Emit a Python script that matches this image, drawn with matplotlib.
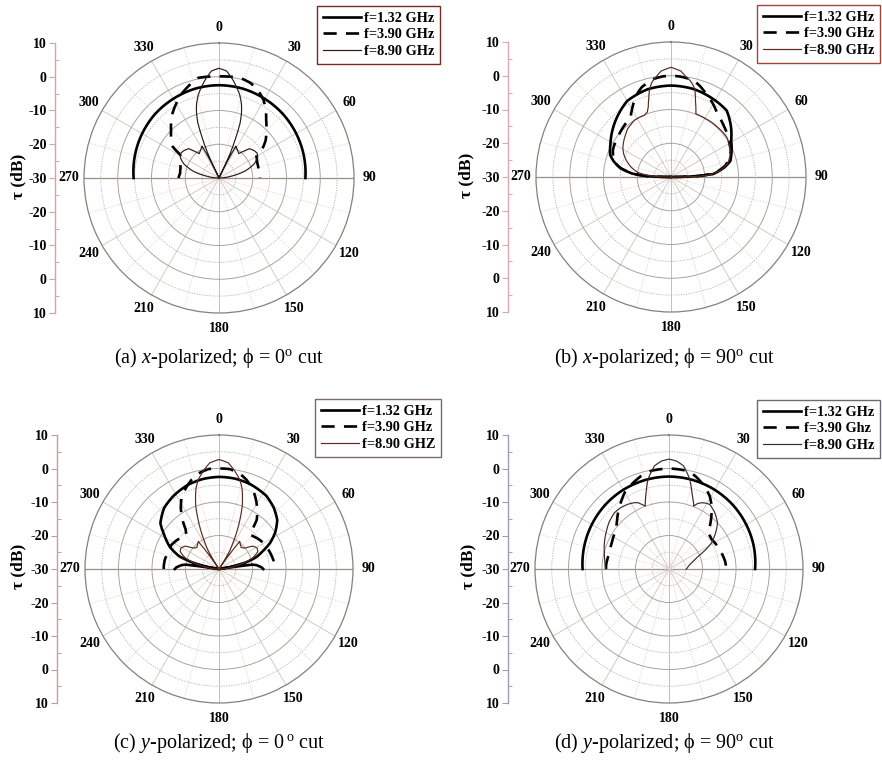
import numpy as np
import matplotlib
matplotlib.use("Agg")
import matplotlib.pyplot as plt
from matplotlib.ticker import FixedLocator

plt.rcParams['font.family'] = ['Liberation Serif', 'DejaVu Serif']
plt.rcParams['mathtext.fontset'] = 'custom'
plt.rcParams['mathtext.rm'] = 'Liberation Serif'
plt.rcParams['mathtext.it'] = 'Liberation Serif:italic'
plt.rcParams['mathtext.bf'] = 'Liberation Serif:bold'

# ---------------- data (angle in degrees, clockwise from top; value in dB) ----
theta_ticks = list(range(0, 360, 30))
theta_labels = [str(t) for t in theta_ticks]
r_ticks = [-40, -30, -20, -10, 0, 10, 20, 30, 40]
r_tick_labels = ["10", "0", "-10", "-20", "-30", "-20", "-10", "0", "10"]

# (a) x-polarized, phi = 0
a132_ang = [-90, -75, -60, -45, -30, -15, 0, 15, 30, 45, 60, 75, 90]
a132_db = [-4.7, -4.2, -3.7, -3.2, -2.9, -2.6, -2.5, -2.6, -2.9, -3.2, -3.6, -4.0, -4.4]
a390_ang = [-90, -83, -75, -65, -59, -56, -50, -45, -37, -30, -25, -18, -12, -6, 0,
            6, 12, 18, 22, 26, 30, 35, 39, 45, 51, 56, 60, 68, 78, 88, 90]
a390_db = [-18.0, -18.4, -18.2, -17.5, -16.6, -13.5, -11.5, -9.9, -6.8, -4.6, -3.0, -1.2, 0.3, 0.2, 0.1,
           0.2, 0.3, -0.3, -1.1, -2.2, -3.5, -5.8, -7.8, -10.2, -12.2, -14.5, -17.2, -17.8, -18.0, -17.9, -17.9]
a890_ang = [-90, -82, -75, -68, -62, -57, -52, -46, -42, -39, -35, -31, -28, -26.5, -25.5, -24.5, -23,
            -21, -19, -17, -14, -11, -8, -4, 0, 4, 8, 11, 14, 17, 19, 21, 23, 24.5, 25.5, 26.5, 28,
            31, 35, 39, 42, 46, 52, 57, 62, 68, 75, 82, 90]
a890_db = [-30, -26.5, -22, -18.7, -17, -16.5, -16.8, -17.5, -19.5, -20.7, -20.3, -19.8, -19.3, -24, -30, -22, -18,
           -12.5, -9.5, -7.2, -4.6, -2.6, -0.6, 1.8, 2.5, 1.8, -0.6, -2.6, -4.6, -7.2, -9.5, -12.5, -18, -22, -30, -24, -19.3,
           -19.8, -20.3, -20.7, -19.5, -17.5, -16.8, -16.5, -17, -18.7, -22, -26.5, -30]

# (b) x-polarized, phi = 90
b132_ang = [-90, -88.5, -87, -85, -80, -75, -70, -61, -47, -30, -15, 0, 15, 30, 40, 50, 59, 67, 75, 80, 86, 88.5, 90]
b132_db = [-30, -25, -21.5, -18.5, -14.8, -12.5, -10.8, -9.5, -7.0, -4.0, -3.1, -2.9, -3.1, -3.8, -4.3, -6.8,
           -9.2, -10.5, -11.8, -14.0, -17.5, -24, -30]
b390_ang = [-90, -88, -85, -80, -75, -65, -59, -52, -47, -40, -34, -28, -24, -18, -10, -5, 0, 5, 10, 14, 18,
            22, 28, 36, 43, 50, 58, 66, 72, 78, 83, 86, 88, 90]
b390_db = [-30, -23, -18.5, -14.8, -12.5, -11.0, -10.6, -10.2, -9.8, -9.2, -8.6, -6.0, -4.0, -2.0, -0.5, -0.1, 0.0,
           -0.1, -0.4, -0.8, -1.8, -3.0, -4.5, -6.7, -7.8, -8.7, -9.8, -10.6, -11.8, -13.5, -16.0, -18.5, -22, -30]
b890_ang = [-90, -88, -86, -82, -76, -70, -64, -58, -52, -47, -42, -37, -33, -28, -23.4, -20, -18, -16, -14, -12,
            -10.7, -8, -5.4, 0, 5.4, 8, 11.3, 13.5, 15.5, 18, 21.5, 24, 27, 31, 37, 43, 49, 54.5, 60, 66, 71,
            76.8, 82, 87.4, 89, 90]
b890_db = [-30, -26, -23, -20, -17.8, -16.0, -14.4, -13.2, -12.3, -11.6, -10.8, -10.4, -10.0, -10.0, -10.1, -9.5,
           -8.2, -6.0, -3.6, -1.8, -1.0, 0.2, 1.5, 2.5, 1.5, 0.2, -0.9, -2.0, -3.4, -6.5, -9.9, -9.9, -9.9, -9.9,
           -9.8, -9.8, -9.7, -9.7, -10.1, -10.8, -11.6, -12.8, -15.0, -19.2, -24, -30]

# (c) y-polarized, phi = 0
c132_ang = [-90, -88, -86, -84, -82.5, -81.5, -79, -76, -74, -72.5, -66, -59, -52, -42, -32, -20, -10, 0,
            10, 20, 33, 42, 50, 57, 63, 68, 72, 76, 79, 81.5, 82.5, 84, 86, 88, 90]
c132_db = [-16.8, -17.2, -18.0, -18.8, -20.0, -30, -26, -21.5, -19.5, -17.7, -14.0, -11.1, -7.8, -5.5, -4.3, -3.2,
           -2.7, -2.5, -2.6, -3.0, -4.0, -5.5, -7.3, -10.0, -12.9, -16.0, -18.1, -21.5, -26, -30, -20.0, -18.8,
           -18.0, -17.2, -16.8]
c390_ang = [-90, -86, -80, -72, -63, -55, -48, -43.6, -40, -36.6, -32, -27.8, -22, -17, -12, -6, 0, 6, 12, 17,
            22, 26.5, 32, 37.5, 40, 42.4, 47, 53, 60, 68, 76, 82, 86, 90]
c390_db = [-13.5, -13.5, -13.6, -14.0, -14.1, -14.8, -15.8, -15.9, -14.5, -11.7, -8.5, -6.0, -3.8, -2.1, -0.8, 0.0,
           0.0, 0.0, -0.8, -2.1, -3.8, -5.8, -8.5, -11.5, -14.5, -16.2, -15.8, -15.2, -14.6, -14.2, -13.8, -13.5,
           -13.5, -13.5]
c890_ang = [-90, -84, -78, -72, -66, -61, -56, -51, -46, -41, -37, -34, -31, -28, -25.9, -23, -20.3, -16, -13,
            -9, -5, 0, 5, 9, 13, 16, 20.3, 23, 25.9, 28, 31, 34, 37, 41, 46, 51, 56, 61, 66, 72, 78, 84, 90]
c890_db = [-30, -27, -23.5, -19.5, -17.3, -17.0, -17.8, -20.1, -20.8, -20.3, -19.7, -30, -24, -21, -18.1, -14.0,
           -10.0, -5.0, -2.6, -0.3, 1.8, 2.7, 1.8, -0.3, -2.6, -5.0, -10.0, -14.0, -18.1, -21, -24, -30, -19.7,
           -20.3, -20.8, -20.1, -17.8, -17.0, -17.3, -19.5, -23.5, -27, -30]

# (d) y-polarized, phi = 90
d132_ang = [-90, -75, -60, -45, -30, -15, 0, 15, 30, 45, 60, 75, 90]
d132_db = [-4.2, -3.8, -3.4, -3.0, -2.7, -2.5, -2.4, -2.5, -2.7, -3.0, -3.4, -3.8, -4.3]
d390_ang = [-90, -86, -75, -65, -53, -47, -42, -36, -30, -23, -16.6, -10, 0, 10, 15.5, 22, 29, 33, 37, 42, 47,
            55, 65, 75, 82, 86, 90]
d390_db = [-11.2, -11.2, -11.6, -11.2, -10.3, -8.8, -7.3, -5.5, -3.6, -2.2, -1.0, -0.2, 0.0, -0.2, -1.1, -2.8,
           -5.0, -6.8, -8.9, -11.5, -14.1, -14.5, -14.0, -13.5, -13.1, -13.0, -13.0]
d890_ang = [-90, -83, -76, -68, -60, -52, -44, -38, -32.5, -28, -25.2, -23, -20.7, -17, -13.2, -8, -4, 0, 4, 8,
            13, 17, 21.5, 23.5, 26, 29, 32.3, 39, 46.4, 52, 58.4, 62, 66.4, 72, 80, 90]
d890_db = [-11.1, -10.7, -10.1, -9.2, -8.3, -7.3, -6.6, -6.7, -7.1, -7.6, -8.1, -9.0, -9.9, -6.5, -2.5, 1.1, 2.3,
           2.8, 2.3, 1.1, -2.5, -6.5, -9.8, -8.7, -8.0, -7.5, -7.2, -8.3, -10.0, -12.3, -15.1, -17.5, -20.5, -22.5,
           -24.0, -24.8]

labels_a = ["f=1.32 GHz", "f=3.90 GHz", "f=8.90 GHz"]
labels_b = ["f=1.32 GHz", "f=3.90 GHz", "f=8.90 GHz"]
labels_c = ["f=1.32 GHz", "f=3.90 GHz", "f=8.90 GHZ"]
labels_d = ["f=1.32 GHz", "f=3.90 Ghz", "f=8.90 GHz"]

captions = [r"(a) $\mathit{x}$-polarized; $\mathrm{\phi}$ = 0$^{\mathrm{o}}$ cut",
            r"(b) $\mathit{x}$-polarized; $\mathrm{\phi}$ = 90$^{\mathrm{o}}$ cut",
            r"(c) $\mathit{y}$-polarized; $\mathrm{\phi}$ = 0$\,^{\mathrm{o}}$ cut",
            r"(d) $\mathit{y}$-polarized; $\mathrm{\phi}$ = 90$^{\mathrm{o}}$ cut"]

# ---------------- layout ----------------
W, H = 882, 763
fig = plt.figure(figsize=(W / 100, H / 100), dpi=100)


def fx(px):
    return px / W


def fy(py):
    return 1 - py / H


panels = [
    dict(c=(219, 178), R=135, axx=55, spine='#d9a3a3', leg=(317, 6), legc='#7a2c22', thin='#2a1a14',
         ylab=(18, 176), cap=(219, 358), labels=labels_a,
         data=[(a132_ang, a132_db), (a390_ang, a390_db), (a890_ang, a890_db)]),
    dict(c=(671, 177), R=135, axx=508, spine='#dcaaaa', leg=(757, 5), legc='#a0463a', thin='#5b2b1f',
         ylab=(466, 175), cap=(664, 358), labels=labels_b,
         data=[(b132_ang, b132_db), (b390_ang, b390_db), (b890_ang, b890_db)]),
    dict(c=(219, 569), R=134, axx=57, spine='#c99c9c', leg=(315, 399), legc='#7d6a66', thin='#5b2b1f',
         ylab=(18, 566), cap=(219, 743), labels=labels_c,
         data=[(c132_ang, c132_db), (c390_ang, c390_db), (c890_ang, c890_db)]),
    dict(c=(669, 569), R=134, axx=508, spine='#a898b8', leg=(757, 400), legc='#6a6a78', thin='#3b2a2a',
         ylab=(468, 566), cap=(664, 743), labels=labels_d,
         data=[(d132_ang, d132_db), (d390_ang, d390_db), (d890_ang, d890_db)]),
]

tickfont = dict(family='Liberation Serif', weight='bold', size=10)
legfont = dict(family='Liberation Serif', weight='bold', size=10.3)

for k, p in enumerate(panels):
    cx, cy = p['c']
    R = p['R']
    ax = fig.add_axes([fx(cx - R), fy(cy + R), 2 * R / W, 2 * R / H], projection='polar')
    ax.set_theta_zero_location('N')
    ax.set_theta_direction(-1)
    ax.set_ylim(-30, 10)

    ax.set_xticks(np.deg2rad(theta_ticks))
    ax.set_xticklabels(theta_labels, fontdict=tickfont)
    ax.xaxis.set_minor_locator(FixedLocator(np.deg2rad(list(range(15, 360, 30)))))
    ax.set_yticks([-20, -10, 0])
    ax.set_yticklabels([])
    ax.yaxis.set_minor_locator(FixedLocator([-25, -15, -5, 5]))
    ax.tick_params(axis='both', which='both', length=0)
    ax.tick_params(axis='x', pad=4)

    ax.grid(True, which='major', axis='x', color='#d2cdc2', lw=0.7, ls='-')
    ax.grid(True, which='minor', axis='x', color='#e8d0d0', lw=0.6, ls=(0, (1.5, 1.5)))
    ax.grid(True, which='major', axis='y', color='#aaa49c', lw=0.7, ls='-')
    ax.grid(True, which='minor', axis='y', color='#b8b0a8', lw=0.6, ls=(0, (1.5, 1.5)))
    gls = ax.xaxis.get_gridlines()
    for i in (0, 6):
        gls[i].set_color('#e3b0b0')
    for i in (3, 9):
        gls[i].set_color('#9a8e86')
        gls[i].set_linewidth(0.9)
    ax.spines['polar'].set_color('#8a7f78')
    ax.spines['polar'].set_linewidth(0.9)

    (g1a, g1d), (g2a, g2d), (g3a, g3d) = p['data']
    l1, = ax.plot(np.deg2rad(g1a), g1d, color='black', lw=1.9, label=p['labels'][0], zorder=5)
    l2, = ax.plot(np.deg2rad(g2a), g2d, color='black', lw=1.9, dashes=(5, 3.5), label=p['labels'][1], zorder=5)
    l3, = ax.plot(np.deg2rad(g3a), g3d, color=p['thin'], lw=0.85, label=p['labels'][2], zorder=6)
    for ln in (l1, l2, l3):
        # draw segments along the polar grid (curved) instead of straight chords
        ln.get_path()._interpolation_steps = 40

    leg = ax.legend(loc='upper left', bbox_to_anchor=(fx(p['leg'][0]), fy(p['leg'][1])),
                    bbox_transform=fig.transFigure, borderaxespad=0, prop=legfont,
                    fancybox=False, framealpha=1, edgecolor=p['legc'], handlelength=2.7,
                    handletextpad=0.2, labelspacing=0.25, borderpad=0.4)
    leg.get_frame().set_linewidth(1.0)

    # left linear axis showing the radial scale
    lax = fig.add_axes([fx(p['axx']), fy(cy + R), 1.0 / W, 2 * R / H])
    lax.set_facecolor('none')
    for s in ('top', 'right', 'bottom'):
        lax.spines[s].set_visible(False)
    lax.spines['left'].set_color(p['spine'])
    lax.spines['left'].set_linewidth(1.0)
    lax.set_xticks([])
    lax.set_ylim(-40, 40)
    lax.set_yticks(r_ticks)
    lax.set_yticklabels(r_tick_labels, fontdict=tickfont)
    lax.yaxis.set_minor_locator(FixedLocator([-35, -25, -15, -5, 5, 15, 25, 35]))
    lax.tick_params(axis='y', which='major', length=4, width=0.8, color=p['spine'], pad=2)
    lax.tick_params(axis='y', which='minor', direction='in', length=3, width=0.7, color=p['spine'])

    fig.text(fx(p['ylab'][0]), fy(p['ylab'][1]), "τ (dB)", rotation=90, ha='center', va='center',
             fontsize=12.5, fontweight='bold', family=['Liberation Serif', 'DejaVu Serif'])
    fig.text(fx(p['cap'][0]), fy(p['cap'][1]), captions[k], ha='center', va='center', fontsize=14.5)

fig.savefig("out.png", dpi=100)
